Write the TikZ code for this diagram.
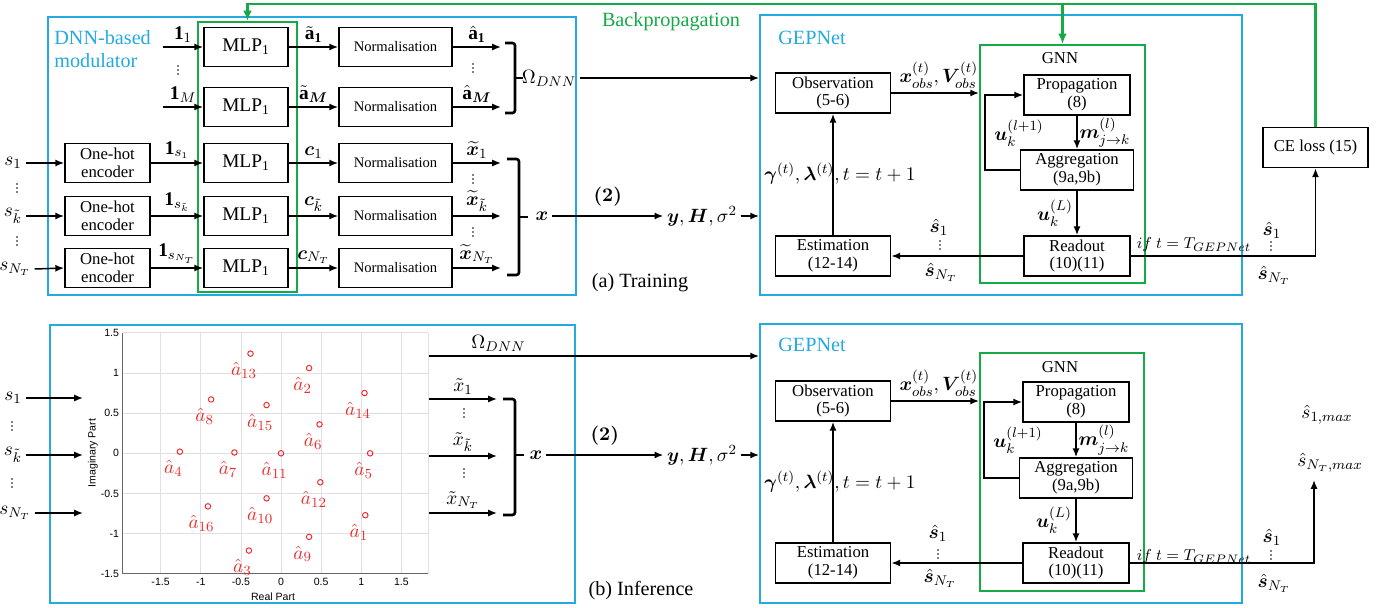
\documentclass[tikz,border=0pt]{standalone}
\usepackage{amsmath}
\usepackage{bm}
\usepackage{fontspec}
\setmainfont{Liberation Serif}
\newfontfamily\axisfont{Liberation Sans}
\usetikzlibrary{arrows.meta,positioning}

\definecolor{frameblue}{RGB}{35,170,225}
\definecolor{framegreen}{RGB}{20,170,70}
\definecolor{symred}{RGB}{235,45,45}

% three small vertical dots between repeated rows
\newcommand{\rowdots}[1]{\fill (#1) ++(0,-4) circle (0.55pt) ++(0,4) circle (0.55pt) ++(0,4) circle (0.55pt);}

\tikzset{
  blk/.style={draw, line width=1pt, minimum height=0.8cm, inner sep=1pt, align=center, font=\fontsize{9.5}{10}\selectfont},
  mlpbox/.style={blk, minimum width=1.68cm, minimum height=0.78cm, font=\fontsize{11}{12}\selectfont},
  normbox/.style={blk, minimum width=2.26cm, minimum height=0.78cm, font=\fontsize{8.3}{10}\selectfont},
  encbox/.style={blk, minimum width=1.7cm, minimum height=0.78cm},
  bluefrm/.style={draw=frameblue, line width=1.1pt, inner sep=0pt},
  greenfrm/.style={draw=framegreen, line width=1.1pt, inner sep=0pt},
  arr/.style={-{Latex[length=5pt,width=4pt]}, line width=0.85pt},
  bprop/.style={draw=framegreen, line width=1.6pt, -{Latex[length=6pt,width=5pt]}},
  bracket/.style={line width=1.5pt, rounded corners=1.5pt},
  lbl/.style={inner sep=2pt, font=\fontsize{11}{12}\selectfont},
  gridline/.style={draw=black!12, line width=0.4pt},
  axisline/.style={draw=black!60, line width=0.5pt},
  ticklbl/.style={inner sep=2pt, font=\axisfont\fontsize{6}{7}\selectfont},
  constpt/.style={circle, draw=symred, line width=0.55pt, inner sep=0pt, minimum size=0.11cm},
  constlbl/.style={inner sep=0pt, text=symred, font=\fontsize{11}{11}\selectfont},
}

\begin{document}
\begin{tikzpicture}[x=0.02cm, y=-0.02cm]
  \useasboundingbox (0,0) rectangle (1385,608);

  % ===== (a) training =====
  \node[bluefrm, minimum width=10.56cm, minimum height=5.56cm] (dnnA) at (312,156) {};
  \node[anchor=west, align=left, inner sep=0pt, text=frameblue, font=\fontsize{11.5}{13}\selectfont] (dnnlbl) at (54,49) {DNN-based\\modulator};
  \node[greenfrm, minimum width=1.98cm, minimum height=5.4cm] (mlpcol) at (247.5,157) {};

  % MLP and normalisation rows
  \foreach \i/\y in {1/47,2/107,3/163,4/216,5/268}{
    \node[mlpbox] (mlp\i) at (246,\y) {MLP\textsubscript{1}};
    \node[normbox] (norm\i) at (395.5,\y) {Normalisation};
    \coordinate (out\i) at (501,\y);
  }
  \foreach \i/\y in {3/163,4/216,5/268}
    \node[encbox] (enc\i) at (107.5,\y) {One-hot\\encoder};

  % symbol inputs
  \node[lbl] (sA1) at (13,163) {$s_1$};
  \node[lbl] (sAk) at (13,216) {$s_{\tilde{k}}$};
  \node[lbl] (sAn) at (15,269) {$s_{N_T}$};
  \rowdots{17,188}
  \rowdots{17,241}
  \draw[arr] (sA1.east) -- (enc3.west);
  \draw[arr] (sAk.east) -- (enc4.west);
  \draw[arr] (sAn.east) -- (enc5.west);

  % one-hot vectors into the MLPs
  \coordinate (oneA1) at (163,47);
  \coordinate (oneAM) at (163,107);
  \draw[arr] (oneA1) -- (mlp1.west) node[lbl, midway, above] (l1) {$\mathbf{1}_1$};
  \draw[arr] (oneAM) -- (mlp2.west) node[lbl, midway, above] (lM) {$\mathbf{1}_M$};
  \rowdots{178,70}
  \draw[arr] (enc3.east) -- (mlp3.west) node[lbl, midway, above] (ls1) {$\mathbf{1}_{s_1}$};
  \draw[arr] (enc4.east) -- (mlp4.west) node[lbl, midway, above] (lsk) {$\mathbf{1}_{s_{\tilde{k}}}$};
  \draw[arr] (enc5.east) -- (mlp5.west) node[lbl, midway, above] (lsn) {$\mathbf{1}_{s_{N_T}}$};

  % MLP -> normalisation -> outputs
  \draw[arr] (mlp1.east) -- (norm1.west) node[lbl, midway, above] (ta1) {$\tilde{\mathbf{a}}_{\mathbf{1}}$};
  \draw[arr] (mlp2.east) -- (norm2.west) node[lbl, midway, above] (taM) {$\tilde{\mathbf{a}}_{\bm{M}}$};
  \draw[arr] (mlp3.east) -- (norm3.west) node[lbl, midway, above] (c1) {$\bm{c}_1$};
  \draw[arr] (mlp4.east) -- (norm4.west) node[lbl, midway, above] (ck) {$\bm{c}_{\tilde{k}}$};
  \draw[arr] (mlp5.east) -- (norm5.west) node[lbl, midway, above] (cn) {$\bm{c}_{N_T}$};
  \draw[arr] (norm1.east) -- (out1) node[lbl, midway, above] (ha1) {$\hat{\mathbf{a}}_{\mathbf{1}}$};
  \draw[arr] (norm2.east) -- (out2) node[lbl, midway, above] (haM) {$\hat{\mathbf{a}}_{\bm{M}}$};
  \draw[arr] (norm3.east) -- (out3) node[lbl, midway, above] (xt1) {$\widetilde{\bm{x}}_1$};
  \draw[arr] (norm4.east) -- (out4) node[lbl, midway, above] (xtk) {$\widetilde{\bm{x}}_{\tilde{k}}$};
  \draw[arr] (norm5.east) -- (out5) node[lbl, midway, above] (xtn) {$\widetilde{\bm{x}}_{N_T}$};
  \rowdots{473,68}
  \rowdots{473,179}
  \rowdots{473,232}

  % brackets collecting the outputs
  \draw[bracket] (505,43) -- (515,43) -- (515,113) -- (505,113);
  \draw[bracket] (515,78) -- (523,78);
  \draw[bracket] (507,159) -- (519,159) -- (519,275) -- (507,275);
  \draw[bracket] (519,217) -- (528,217);
  \node[lbl] (omA) at (549,78) {$\Omega_{DNN}$};
  \node[lbl] (xA) at (542,216) {$\bm{x}$};
  \node[lbl] (yhA) at (702,216) {$\bm{y},\bm{H},\sigma^2$};

  % GEPNet
  \node[bluefrm, minimum width=9.64cm, minimum height=5.6cm] (gepA) at (1001,155) {};
  \node[anchor=west, inner sep=0pt, text=frameblue, font=\fontsize{11.5}{13}\selectfont] (geplblA) at (778,38) {GEPNet};
  \node[blk, minimum width=2.3cm] (obsA) at (833,93) {Observation\\(5-6)};
  \node[blk, minimum width=2.3cm] (estA) at (833,256) {Estimation\\(12-14)};
  \node[greenfrm, minimum width=3.3cm, minimum height=4.76cm] (gnnA) at (1062.5,164) {};
  \node[font=\fontsize{9.5}{10}\selectfont] (gnnlblA) at (1060,58) {GNN};
  \node[blk, minimum width=2.12cm] (propA) at (1077,95) {Propagation\\(8)};
  \node[blk, minimum width=2.26cm] (aggA) at (1077,170) {Aggregation\\(9a,9b)};
  \node[blk, minimum width=2.12cm] (readA) at (1077,256) {Readout\\(10)(11)};
  \node[blk, minimum width=2.1cm] (ceA) at (1315.5,147.5) {CE loss (15)};

  \draw[arr] (omA.east) -- (omA.east -| gepA.west);
  \draw[arr] (xA.east) -- (yhA.west) node[lbl, midway, above=3pt] (twoA) {$\bm{(2)}$};
  \draw[arr] (yhA.east) -- (yhA.east -| gepA.west);
  \draw[arr] (obsA.east) -- (obsA.east -| gnnA.west) node[lbl, midway, above, xshift=2pt] (obslA) {$\bm{x}_{obs}^{(t)},\bm{V}_{obs}^{(t)}$};
  \draw[arr] (estA.north) -- (obsA.south);
  \node[lbl] (gamA) at (840,174) {$\bm{\gamma}^{(t)},\bm{\lambda}^{(t)},t=t+1$};

  % GNN message passing loop
  \coordinate (loopA) at (985,170);
  \draw[arr] (aggA.west) -- (loopA) |- (propA.west);
  \node[lbl] (ulA) at (1019,133) {$\bm{u}_k^{(l+1)}$};
  \draw[arr] (propA.south) -- (aggA.north) node[lbl, midway, right=-1pt] (mA) {$\bm{m}_{j\to k}^{(l)}$};
  \draw[arr] (aggA.south) -- (readA.north) node[lbl, midway, left] (uLA) {$\bm{u}_k^{(L)}$};

  % readout back to estimation and on to the loss
  \draw[arr] (readA.west) -- (estA.east);
  \node[lbl] (shA1) at (939,227) {$\hat{\bm{s}}_1$};
  \rowdots{940,245}
  \node[lbl] (shAn) at (941,272) {$\hat{\bm{s}}_{N_T}$};
  \draw[arr] (readA.east) -| (ceA.south);
  \node[lbl, font=\fontsize{9.3}{10}\selectfont] (ifA) at (1194,245) {$if\ t=T_{GEPNet}$};
  \node[lbl] (shA3) at (1272,230) {$\hat{\bm{s}}_1$};
  \rowdots{1271,246}
  \node[lbl] (shA4) at (1274,275) {$\hat{\bm{s}}_{N_T}$};

  % backpropagation path
  \coordinate (bp) at (247.5,4);
  \draw[bprop] (ceA.north) |- (bp) -- (mlpcol.north);
  \draw[bprop] (gnnA.north |- bp) -- (gnnA.north);
  \node[text=framegreen, font=\fontsize{11.5}{13}\selectfont] (bplbl) at (671,22) {Backpropagation};
  \node[font=\fontsize{11.5}{13}\selectfont] (capA) at (640,283) {(a) Training};

  % ===== (b) inference =====
  \node[bluefrm, minimum width=10.5cm, minimum height=5.56cm] (dnnB) at (312.5,464) {};

  % learned constellation
  \begin{scope}[shift={(281,453.3)}, x=1.606cm, y=1.608cm]
    \foreach \g in {-1.5,-1,-0.5,0,0.5,1,1.5}
      \draw[gridline] (\g,-1.5) -- (\g,1.5);
    \foreach \g in {-1,-0.5,0,0.5,1,1.5}
      \draw[gridline] (-1.97,\g) -- (1.83,\g);
    \draw[gridline] (1.83,-1.5) -- (1.83,1.5);
    \draw[axisline] (-1.97,1.5) -- (-1.97,-1.5) -- (1.83,-1.5);
    \foreach \g [count=\k] in {-1.5,-1,-0.5,0,0.5,1,1.5}{
      \node[ticklbl, anchor=north] (xtick\k) at (\g,-1.5) {\g};
      \node[ticklbl, anchor=east] (ytick\k) at (-1.97,\g) {\g};
    }
    \foreach \k/\px/\py in {1/1.05/-0.77, 2/0.35/1.06, 3/-0.40/-1.21, 4/-1.26/0.02,
        5/1.11/0, 6/0.48/0.36, 7/-0.58/0.01, 8/-0.87/0.67, 9/0.35/-1.04,
        10/-0.18/-0.56, 11/0/0, 12/0.49/-0.36, 13/-0.38/1.24, 14/1.04/0.75,
        15/-0.18/0.60, 16/-0.91/-0.66}{
      \node[constpt] (a\k) at (\px,\py) {};
      \node[constlbl] (la\k) at ({\px-0.08},{\py-0.21}) {$\hat{a}_{\k}$};
    }
  \end{scope}
  \node[ticklbl] (xaxl) at (273,597) {Real Part};
  \node[ticklbl, rotate=90] (yaxl) at (93,453) {Imaginary Part};

  % symbol inputs
  \node[lbl] (sB1) at (13,398) {$s_1$};
  \node[lbl] (sBk) at (13,455) {$s_{\tilde{k}}$};
  \node[lbl] (sBn) at (15,513) {$s_{N_T}$};
  \rowdots{12,426}
  \rowdots{12,483}
  \coordinate (inB1) at (83,398);
  \coordinate (inBk) at (83,455);
  \coordinate (inBn) at (83,513);
  \draw[arr] (sB1.east) -- (inB1);
  \draw[arr] (sBk.east) -- (inBk);
  \draw[arr] (sBn.east) -- (inBn);

  % constellation points out
  \coordinate (omB) at (429,356);
  \coordinate (xsB1) at (429,399);
  \coordinate (xsBk) at (429,456);
  \coordinate (xsBn) at (429,513);
  \coordinate (xeB1) at (497,399);
  \coordinate (xeBk) at (497,456);
  \coordinate (xeBn) at (497,513);
  \draw[arr] (xsB1) -- (xeB1) node[lbl, midway, above] (txB1) {$\tilde{x}_1$};
  \draw[arr] (xsBk) -- (xeBk) node[lbl, midway, above] (txBk) {$\tilde{x}_{\tilde{k}}$};
  \draw[arr] (xsBn) -- (xeBn) node[lbl, midway, above] (txBn) {$\tilde{x}_{N_T}$};
  \rowdots{464,413}
  \rowdots{464,473}
  \draw[bracket] (503,399) -- (515,399) -- (515,515) -- (503,515);
  \draw[bracket] (515,455) -- (524,455);
  \node[lbl] (xB) at (536,455) {$\bm{x}$};
  \node[lbl] (yhB) at (702,455) {$\bm{y},\bm{H},\sigma^2$};

  % GEPNet
  \node[bluefrm, minimum width=9.64cm, minimum height=5.58cm] (gepB) at (1001,463.5) {};
  \node[anchor=west, inner sep=0pt, text=frameblue, font=\fontsize{11.5}{13}\selectfont] (geplblB) at (778,345) {GEPNet};
  \node[blk, minimum width=2.3cm] (obsB) at (833,401) {Observation\\(5-6)};
  \node[blk, minimum width=2.3cm] (estB) at (833,563) {Estimation\\(12-14)};
  \node[greenfrm, minimum width=3.28cm, minimum height=4.76cm] (gnnB) at (1062,472) {};
  \node[font=\fontsize{9.5}{10}\selectfont] (gnnlblB) at (1060,367) {GNN};
  \node[blk, minimum width=2.12cm] (propB) at (1076,402) {Propagation\\(8)};
  \node[blk, minimum width=2.26cm] (aggB) at (1076,478) {Aggregation\\(9a,9b)};
  \node[blk, minimum width=2.12cm] (readB) at (1076,563) {Readout\\(10)(11)};

  \draw[arr] (omB) -- (omB -| gepB.west) node[lbl, pos=0.21, above] (omlB) {$\Omega_{DNN}$};
  \draw[arr] (xB.east) -- (yhB.west) node[lbl, midway, above=3pt] (twoB) {$\bm{(2)}$};
  \draw[arr] (yhB.east) -- (yhB.east -| gepB.west);
  \draw[arr] (obsB.east) -- (obsB.east -| gnnB.west) node[lbl, midway, above, xshift=2pt] (obslB) {$\bm{x}_{obs}^{(t)},\bm{V}_{obs}^{(t)}$};
  \draw[arr] (estB.north) -- (obsB.south);
  \node[lbl] (gamB) at (840,482) {$\bm{\gamma}^{(t)},\bm{\lambda}^{(t)},t=t+1$};

  \coordinate (loopB) at (984,478);
  \draw[arr] (aggB.west) -- (loopB) |- (propB.west);
  \node[lbl] (ulB) at (1018,440) {$\bm{u}_k^{(l+1)}$};
  \draw[arr] (propB.south) -- (aggB.north) node[lbl, midway, right=-1pt] (mB) {$\bm{m}_{j\to k}^{(l)}$};
  \draw[arr] (aggB.south) -- (readB.north) node[lbl, midway, left] (uLB) {$\bm{u}_k^{(L)}$};

  \draw[arr] (readB.west) -- (estB.east);
  \node[lbl] (shB1) at (938,533) {$\hat{\bm{s}}_1$};
  \rowdots{938,554}
  \node[lbl] (shBn) at (940,578) {$\hat{\bm{s}}_{N_T}$};
  \coordinate (maxB) at (1314,480);
  \draw[arr] (readB.east) -| (maxB);
  \node[lbl, font=\fontsize{9.3}{10}\selectfont] (ifB) at (1194,557) {$if\ t=T_{GEPNet}$};
  \node[lbl] (shB3) at (1272,537) {$\hat{\bm{s}}_1$};
  \rowdots{1271,555}
  \node[lbl] (shB4) at (1274,583) {$\hat{\bm{s}}_{N_T}$};
  \node[lbl] (smax1) at (1327,415) {$\hat{s}_{1,max}$};
  \node[lbl] (smaxn) at (1330,463) {$\hat{s}_{N_T,max}$};
  \node[font=\fontsize{11.5}{13}\selectfont] (capB) at (641,591) {(b) Inference};
\end{tikzpicture}
\end{document}
